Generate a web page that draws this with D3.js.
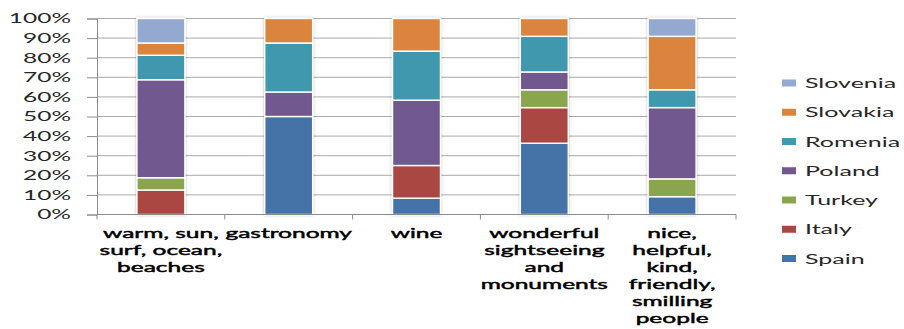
<!DOCTYPE html>
<html>
<head>
<meta charset="utf-8">
<script src="https://cdn.jsdelivr.net/npm/d3@7"></script>
<style>
  html, body { margin: 0; padding: 0; background: #fff; }
  svg { display: block; }
  text { font-family: Lato, "Open Sans", sans-serif; }
</style>
</head>
<body>
<svg id="chart" width="904" height="329"></svg>
<script>
// ---- data ----
const categories = ["warm, sun, surf, ocean, beaches", "gastronomy", "wine", "wonderful sightseeing and monuments", "nice, helpful, kind, friendly, smilling people"];
const categoryLines = [
  ["warm, sun,", "surf, ocean,", "beaches"],
  ["gastronomy"],
  ["wine"],
  ["wonderful", "sightseeing", "and", "monuments"],
  ["nice,", "helpful,", "kind,", "friendly,", "smilling", "people"]
];
const seriesNames = ["Spain", "Italy", "Turkey", "Poland", "Romenia", "Slovakia", "Slovenia"];
const spain    = [0,     50,   8.33, 36.36, 9.09];
const italy    = [12.5,  0,    16.67, 18.18, 0];
const turkey   = [6.25,  0,    0,    9.09,  9.09];
const poland   = [50,    12.5, 33.33, 9.09, 36.36];
const romenia  = [12.5,  25,   25,   18.18, 9.09];
const slovakia = [6.25,  12.5, 16.67, 9.09, 27.27];
const slovenia = [12.5,  0,    0,    0,     9.09];
const seriesValues = [spain, italy, turkey, poland, romenia, slovakia, slovenia];
const yTicks = [0, 10, 20, 30, 40, 50, 60, 70, 80, 90, 100];
const colors = ["#4572A7", "#AA4643", "#89A54E", "#71588F", "#4198AF", "#DB843D", "#93A9CF"];

// ---- build table ----
const table = categories.map((c, i) => {
  const row = { category: c, idx: i };
  seriesNames.forEach((s, j) => row[s] = seriesValues[j][i]);
  return row;
});

const SX = 1.75; // horizontal stretch of text (reference is stretched)
const svg = d3.select("#chart");
const mLeft = 97, mRight = 736, mTop = 18.5, mBottom = 214.5;

const x = d3.scaleBand().domain(d3.range(categories.length)).range([mLeft, mRight]).padding(0);
const y = d3.scaleLinear().domain([0, 100]).range([mBottom, mTop]);

const defs = svg.append("defs");
const f = defs.append("filter").attr("id", "sh").attr("x", "-30%").attr("y", "-10%").attr("width", "160%").attr("height", "120%");
f.append("feDropShadow").attr("dx", 0).attr("dy", 0).attr("stdDeviation", 1.6)
  .attr("flood-color", "#000").attr("flood-opacity", 0.28);

// gridlines
svg.append("g").selectAll("line").data(yTicks.filter(d => d > 0)).join("line")
  .attr("x1", mLeft).attr("x2", mRight)
  .attr("y1", d => y(d)).attr("y2", d => y(d))
  .attr("stroke", "#ababab").attr("stroke-width", 1);

// y axis
const yAxis = svg.append("g").attr("transform", `translate(${mLeft},0)`)
  .call(d3.axisLeft(y).tickValues(yTicks).tickSize(10).tickPadding(16).tickFormat(d => d + "%"));
yAxis.select(".domain").attr("stroke", "#8c8c8c");
yAxis.selectAll(".tick line").attr("stroke", "#8c8c8c");
yAxis.selectAll(".tick text").each(function() {
  const t = d3.select(this);
  const xx = +t.attr("x");
  t.attr("x", null).attr("font-size", 14).attr("fill", "#262626").attr("font-family", "Lato")
   .attr("transform", `translate(${xx},0) scale(${SX},1)`);
});

// stacked bars
const stack = d3.stack().keys(seriesNames);
const stacked = stack(table);
const barW = x.bandwidth() * 0.375;
const bars = svg.append("g").attr("filter", "url(#sh)");
bars.selectAll("g").data(stacked).join("g")
  .attr("fill", (d, i) => colors[i])
  .selectAll("rect").data(d => d.filter(p => p[1] - p[0] > 0)).join("rect")
  .attr("x", d => x(d.data.idx) + (x.bandwidth() - barW) / 2)
  .attr("width", barW)
  .attr("y", d => y(d[1]))
  .attr("height", d => y(d[0]) - y(d[1]))
  .attr("stroke", "#fff").attr("stroke-width", 1.4);

// x axis
const xAxisG = svg.append("g");
xAxisG.append("line").attr("x1", mLeft).attr("x2", mRight).attr("y1", mBottom).attr("y2", mBottom)
  .attr("stroke", "#8c8c8c");
const bounds = d3.range(categories.length).map(i => x(i)).concat([mRight]);
xAxisG.selectAll(".xt").data(bounds).join("line")
  .attr("x1", d => d).attr("x2", d => d).attr("y1", mBottom).attr("y2", mBottom + 5)
  .attr("stroke", "#8c8c8c");

// category labels
const lab = svg.append("g").selectAll("g").data(categoryLines).join("g")
  .attr("transform", (d, i) => `translate(${x(i) + x.bandwidth() / 2},${mBottom + 23.5}) scale(${SX},1)`);
lab.selectAll("text").data(d => d).join("text")
  .attr("y", (d, i) => i * 17)
  .attr("text-anchor", "middle")
  .attr("font-size", 14).attr("fill", "#000")
  .attr("stroke", "#000").attr("stroke-width", 0.45)
  .text(d => d);

// legend
const legendOrder = seriesNames.map((s, i) => ({ s, i })).reverse();
const lg = svg.append("g").selectAll("g").data(legendOrder).join("g")
  .attr("transform", (d, k) => `translate(782,${83 + k * 29.25})`);
lg.append("rect").attr("x", 0).attr("y", -3.5).attr("width", 14).attr("height", 7)
  .attr("fill", d => colors[d.i]);
lg.append("text").attr("transform", `translate(23,0) scale(${SX},1)`)
  .attr("dy", "0.36em").attr("font-size", 14.3).attr("fill", "#262626")
  .text(d => d.s);
</script>
</body>
</html>
